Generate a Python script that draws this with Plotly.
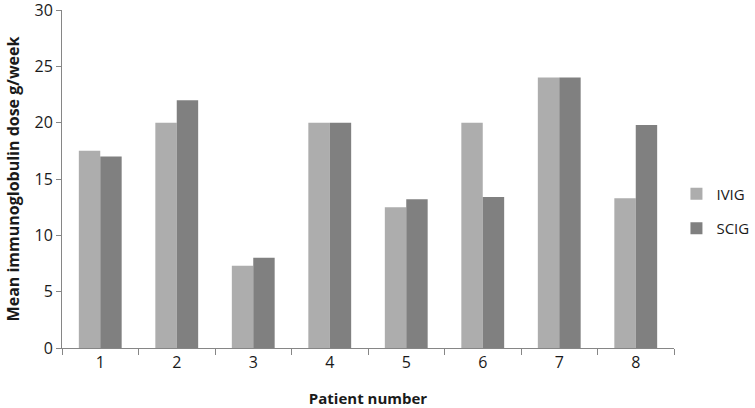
import plotly.graph_objects as go

# --- data ---
patients = ['1', '2', '3', '4', '5', '6', '7', '8']
ivig = [17.5, 20, 7.3, 20, 12.5, 20, 24, 13.3]
scig = [17, 22, 8, 20, 13.2, 13.4, 24, 19.8]

y_ticks = [0, 5, 10, 15, 20, 25, 30]

FONT = 'Open Sans'
AXIS_COL = '#868686'

fig = go.Figure()
fig.add_trace(go.Bar(x=patients, y=ivig, name='IVIG', legendgroup='a',
                     marker=dict(color='#adadad', line_width=0)))
fig.add_trace(go.Bar(x=patients, y=scig, name='SCIG', legendgroup='b',
                     marker=dict(color='#808080', line_width=0)))

fig.update_layout(
    width=755, height=408,
    # fixed margins: legend must not push the plot area around
    margin=dict(l=62, r=81, t=10, b=60, autoexpand=False),
    paper_bgcolor='white', plot_bgcolor='white',
    barmode='group', bargap=0.44, bargroupgap=0,
    font=dict(family=FONT, size=16, color='#1a1a1a'),
    legend=dict(x=1.004, y=0.405, xanchor='left', yanchor='middle',
                font=dict(size=15), itemwidth=30, tracegroupgap=12),
    showlegend=True,
)
fig.update_xaxes(
    type='category', range=[-0.5, 7.5], automargin=False,
    showline=True, linecolor=AXIS_COL, linewidth=1,
    ticks='outside', tickson='boundaries', ticklen=6, tickcolor=AXIS_COL,
    showgrid=False, ticklabeloverflow='allow',
    title=dict(text='<b>Patient number</b>', font=dict(size=15), standoff=22),
)
fig.update_yaxes(
    range=[0, 30], tickvals=y_ticks, automargin=False,
    showline=True, linecolor=AXIS_COL, linewidth=1,
    ticks='outside', ticklen=5, tickcolor=AXIS_COL,
    showgrid=False, zeroline=False, ticklabeloverflow='allow',
    title=dict(text='<b>Mean immunoglobulin dose g/week</b>', font=dict(size=16), standoff=10),
)

# page has a default body margin; drop it so the figure fills the window exactly
fix_page = ("document.body.style.margin='0';document.body.style.overflow='hidden';"
            "Plotly.relayout('{plot_id}', {width: 755, height: 408});")
fig.write_html('out.html', post_script=fix_page, config={'displayModeBar': False})
